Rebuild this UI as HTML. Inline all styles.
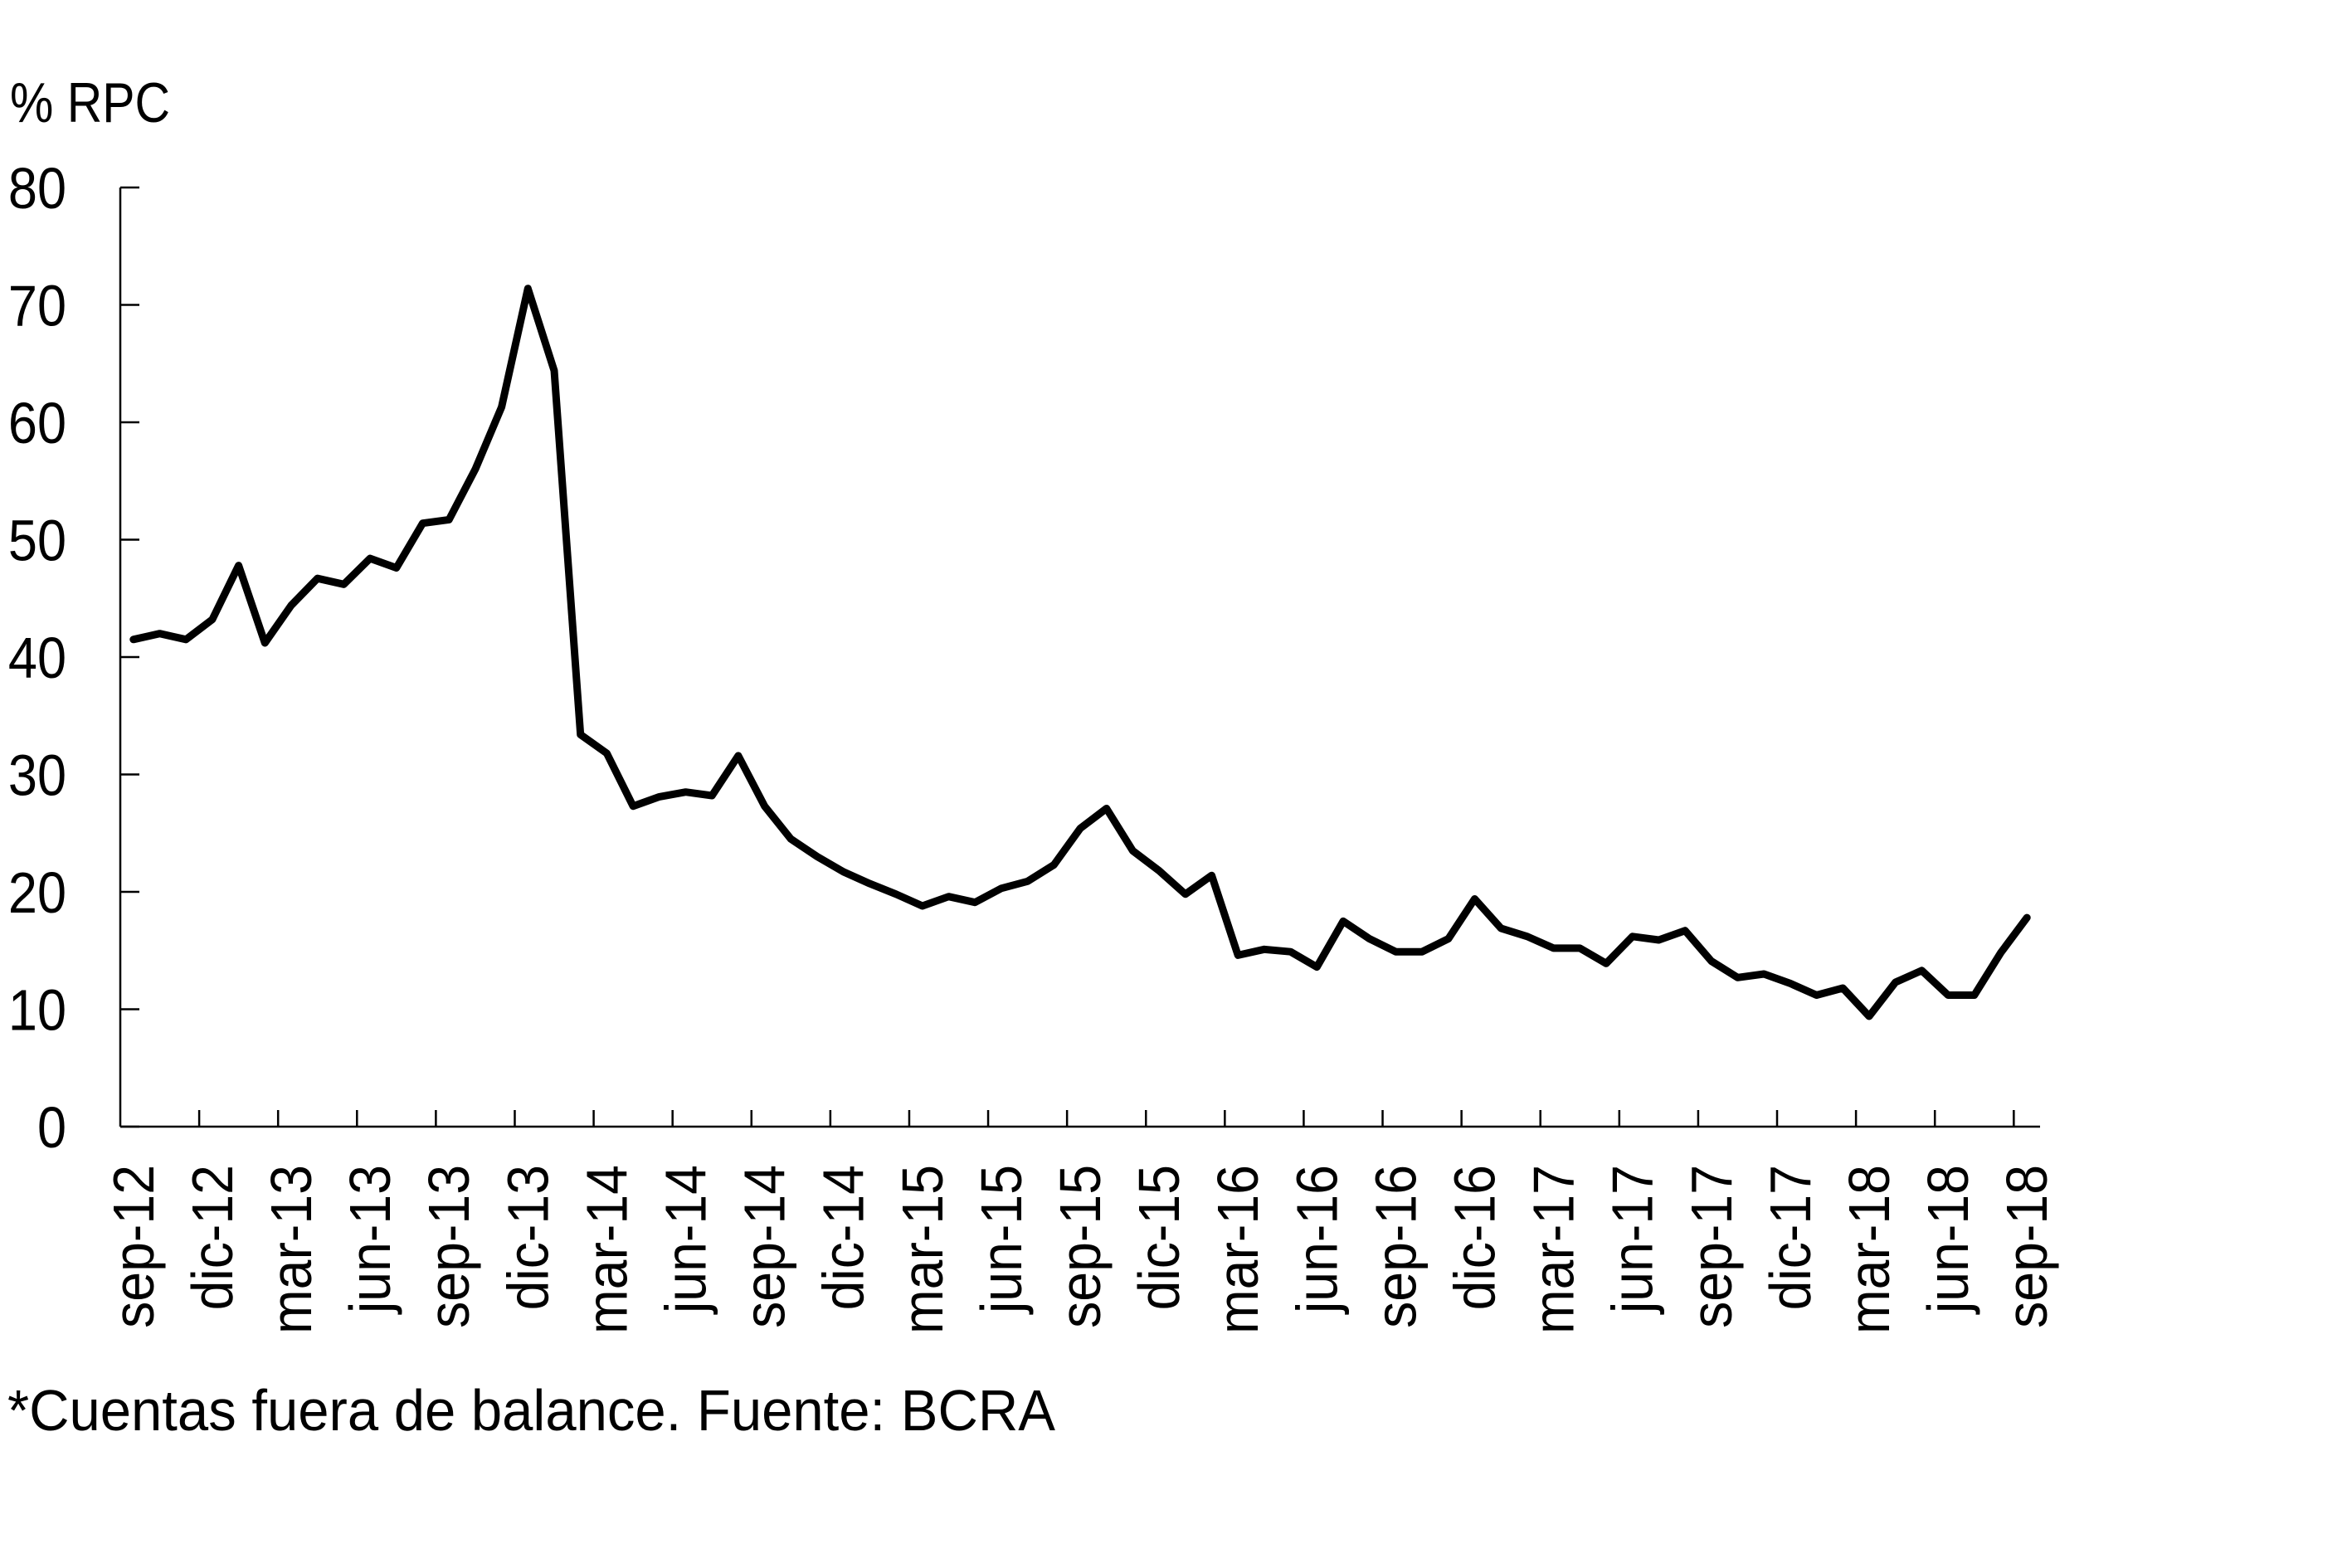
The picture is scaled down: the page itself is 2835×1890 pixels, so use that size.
<!DOCTYPE html>
<html>
<head>
<meta charset="utf-8">
<style>
html,body{margin:0;padding:0;background:#fff;}
svg{display:block;font-family:"Liberation Sans",Arial,sans-serif;}
</style>
</head>
<body>
<svg id="chart" width="2835" height="1890" viewBox="0 0 2835 1890" xmlns="http://www.w3.org/2000/svg">
<rect width="2835" height="1890" fill="#fff"/>
<text x="12" y="147" font-size="68" fill="#000" textLength="193" lengthAdjust="spacingAndGlyphs">% RPC</text>
<g id="axes"></g>
<text x="9" y="1724" font-size="70" fill="#000" textLength="1263" lengthAdjust="spacingAndGlyphs">*Cuentas fuera de balance. Fuente: BCRA</text>
</svg>
<script>
const months = ["sep","oct","nov","dic","ene","feb","mar","abr","may","jun","jul","ago"];
const startYear = 12;
const values = [41.5,42.0,41.5,43.2,47.8,41.2,44.4,46.7,46.2,48.4,47.6,51.4,51.7,56.0,61.3,71.4,64.4,33.4,31.8,27.3,28.1,28.5,28.2,31.6,27.3,24.5,23.0,21.7,20.7,19.8,18.8,19.6,19.1,20.3,20.9,22.3,25.4,27.1,23.5,21.8,19.8,21.4,14.6,15.1,14.9,13.6,17.5,16.0,14.9,14.9,16.0,19.4,16.9,16.2,15.2,15.2,13.9,16.2,15.9,16.7,14.1,12.7,13.0,12.2,11.2,11.8,9.4,12.3,13.3,11.2,11.2,14.8,17.8];
const yTicks = [0,10,20,30,40,50,60,70,80];

const NS = "http://www.w3.org/2000/svg";
const g = document.getElementById("axes");
const X0 = 145, X1 = 2459, Y0 = 1358, Y80 = 226, YMAX = 80;
const n = values.length;
const step = (X1 - X0) / n;
function xScale(i){ return X0 + (i + 0.5) * step; }
function yScale(v){ return Y0 - (v / YMAX) * (Y0 - Y80); }
function mk(tag, attrs){ const e = document.createElementNS(NS, tag); for (const k in attrs) e.setAttribute(k, attrs[k]); return e; }

const yAxis = mk("line", {x1:X0, y1:Y80, x2:X0, y2:Y0, stroke:"#000", "stroke-width":2.5});


g.appendChild(yAxis);
const xAxis = mk("line", {x1:X0, y1:Y0, x2:X1, y2:Y0, stroke:"#000", "stroke-width":2.5});


g.appendChild(xAxis);

yTicks.forEach(t => {
  const y = yScale(t);
  const tk = mk("line", {x1:X0, y1:y, x2:X0+23, y2:y, stroke:"#000", "stroke-width":2.5});
  
  
  g.appendChild(tk);
  const lb = mk("text", {x:0, y:0, "font-size":70, "text-anchor":"end", fill:"#000", transform:`translate(80 ${y+25}) scale(0.9 1)`});
  lb.textContent = t;
  
  
  g.appendChild(lb);
});

for (let i = 0; i < n; i += 3) {
  if (i > 0) {
    const tx = X0 + i * step;
    const tk = mk("line", {x1:tx, y1:Y0, x2:tx, y2:Y0-20, stroke:"#000", "stroke-width":2.5});
    
    
    g.appendChild(tk);
  }
  const cx = xScale(i) + 24;
  const yr = startYear + Math.floor((i + 8) / 12);
  const lb = mk("text", {x:0, y:0, "font-size":70, "text-anchor":"end", fill:"#000", transform:`translate(${cx} 1404) rotate(-90) scale(0.92 1)`});
  lb.textContent = months[i % 12] + "-" + yr;
  
  
  g.appendChild(lb);
}
{
  const tx = X0 + 72 * step;
  const tk = mk("line", {x1:tx, y1:Y0, x2:tx, y2:Y0-20, stroke:"#000", "stroke-width":2.5});
  
  
  g.appendChild(tk);
}

const pts = values.map((v,i) => xScale(i).toFixed(1) + "," + yScale(v).toFixed(1)).join(" ");
const line = mk("polyline", {points:pts, fill:"none", stroke:"#000", "stroke-width":9, "stroke-linejoin":"round", "stroke-linecap":"round"});


g.appendChild(line);
</script>
</body>
</html>
